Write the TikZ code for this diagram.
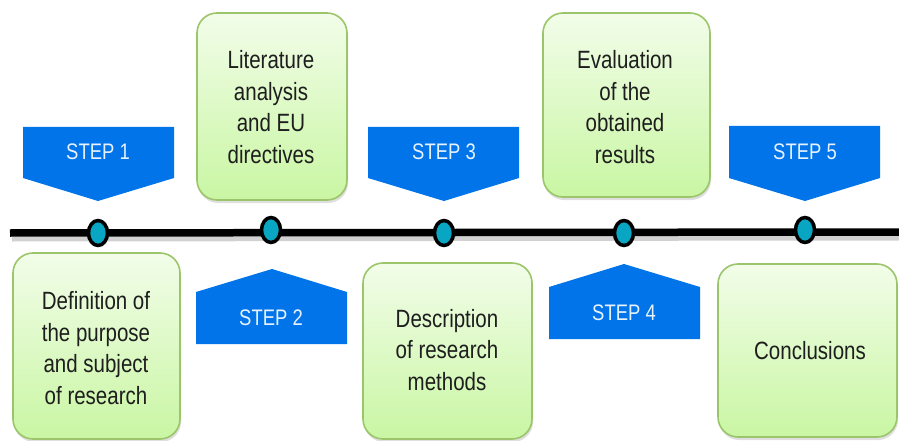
\documentclass[tikz,border=0pt]{standalone}
\usepackage{fontspec}
\setmainfont{Liberation Sans}[FakeStretch=0.82]
\usetikzlibrary{shadows}
\definecolor{boxtop}{HTML}{F2FDE9}
\definecolor{boxbot}{HTML}{C9F6A3}
\definecolor{boxedge}{HTML}{9CC46A}
\definecolor{stepblue}{HTML}{0074E8}
\definecolor{steptext}{HTML}{E6F2FF}
\definecolor{dotfill}{HTML}{08A6C2}
\definecolor{txt}{HTML}{1E1E1E}
\tikzset{
  greenbox/.style={draw=boxedge, line width=1.6pt, rounded corners=20pt,
    top color=boxtop, bottom color=boxbot,
    drop shadow={shadow xshift=1pt, shadow yshift=-3pt, opacity=0.25}},
  boxtext/.style={align=center, text=txt, font=\fontsize{25}{31.8}\selectfont, inner sep=0pt},
  stepshape/.style={fill=stepblue, draw=none},
  steplabel/.style={text=steptext, font=\fontsize{22.5}{26}\selectfont, inner sep=0pt},
  tdot/.style={ellipse, draw=black, line width=3.5pt, fill=dotfill, minimum width=19pt, minimum height=25pt, inner sep=0pt}
}
\usetikzlibrary{shapes.geometric}
\begin{document}
\begin{tikzpicture}[x=1pt,y=-1pt]
\useasboundingbox (0,0) rectangle (899,441);
% timeline
\draw[black!30, line width=5pt, opacity=0.6] (12,239) -- (899,238);
\draw[black, line width=7.5pt] (10,233) -- (899,232);
% dots
\node[tdot] (d1) at (98,233) {};
\node[tdot] (d2) at (271,230) {};
\node[tdot] (d3) at (444,233) {};
\node[tdot] (d4) at (624,233) {};
\node[tdot] (d5) at (805,230) {};
% step shapes (down)
\fill[stepshape] (23,127) -- (174,127) -- (174,178) -- (98,201) -- (23,178) -- cycle;
\node[steplabel] (s1) at (98,152) {STEP 1};
\fill[stepshape] (368,127) -- (519,127) -- (519,178) -- (444,201) -- (368,178) -- cycle;
\node[steplabel] (s3) at (444,152) {STEP 3};
\fill[stepshape] (729,126) -- (880,126) -- (880,178) -- (805,201) -- (729,178) -- cycle;
\node[steplabel] (s5) at (805,152) {STEP 5};
% step shapes (up)
\fill[stepshape] (196,344) -- (347,344) -- (347,292) -- (272,269) -- (196,292) -- cycle;
\node[steplabel] (s2) at (271,318) {STEP 2};
\fill[stepshape] (549,339) -- (700,339) -- (700,287) -- (624,264) -- (549,287) -- cycle;
\node[steplabel] (s4) at (624,313) {STEP 4};
% green boxes
\path[greenbox] (13,253) rectangle (180,439);
\node[boxtext] (b1) at (96,348) {Definition of\\the purpose\\and subject\\of research};
\path[greenbox] (197,13) rectangle (347,200);
\node[boxtext] (b2) at (271,107) {Literature\\analysis\\and EU\\directives};
\path[greenbox] (363,263) rectangle (532,439);
\node[boxtext] (b3) at (447,350) {Description\\of research\\methods};
\path[greenbox] (543,13) rectangle (710,197);
\node[boxtext] (b4) at (625,107) {Evaluation\\of the\\obtained\\results};
\path[greenbox] (718,264) rectangle (897,437);
\node[boxtext] (b5) at (810,351) {Conclusions};
\end{tikzpicture}
\end{document}
